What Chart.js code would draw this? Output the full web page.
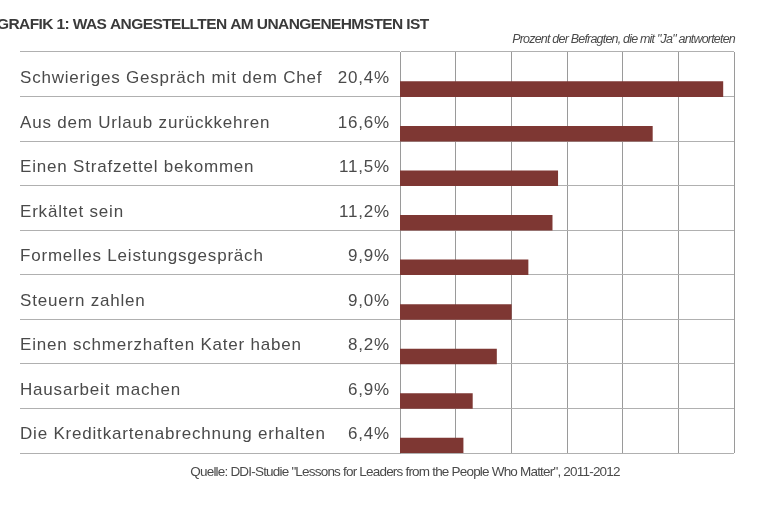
<!DOCTYPE html>
<html lang="de">
<head>
<meta charset="utf-8">
<title>Grafik 1</title>
<script src="https://cdn.jsdelivr.net/npm/chart.js@4/dist/chart.umd.min.js"></script>
<style>
  html, body { margin: 0; padding: 0; background: #fff; }
  canvas { display: block; }
</style>
</head>
<body>
<canvas id="chart" width="762" height="508"></canvas>
<script>
// Daten
const categories = [
    'Schwieriges Gespräch mit dem Chef',
    'Aus dem Urlaub zurückkehren',
    'Einen Strafzettel bekommen',
    'Erkältet sein',
    'Formelles Leistungsgespräch',
    'Steuern zahlen',
    'Einen schmerzhaften Kater haben',
    'Hausarbeit machen',
    'Die Kreditkartenabrechnung erhalten'
];
const values = [20.4, 16.6, 11.5, 11.2, 9.9, 9.0, 8.2, 6.9, 6.4];

const axisMin = 3;
const axisMax = 21;
const axisStep = 3;

const titleText = 'GRAFIK 1: WAS ANGESTELLTEN AM UNANGENEHMSTEN IST';
const noteText = 'Prozent der Befragten, die mit "Ja" antworteten';
const sourceText = 'Quelle: DDI-Studie "Lessons for Leaders from the People Who Matter", 2011-2012';

const textColor = '#4a4a4a';
const labelFont = { family: '"Liberation Sans", Arial, sans-serif', size: 17 };
const labelShift = 4;

function formatValue(v) {
    return v.toFixed(1).replace('.', ',') + '%';
}

// Titel, Hinweis, Quelle und Prozentwerte
const textPlugin = {
    id: 'texts',
    beforeDraw(chart) {
        const ctx = chart.ctx;
        const area = chart.chartArea;
        ctx.save();
        ctx.fillStyle = '#3a3a3a';
        ctx.textBaseline = 'middle';

        ctx.letterSpacing = '-0.6px';
        ctx.font = 'bold 15.5px "Liberation Sans", Arial, sans-serif';
        ctx.textAlign = 'left';
        ctx.fillText(titleText, -3, 25);

        ctx.fillStyle = textColor;
        ctx.letterSpacing = '-0.8px';
        ctx.font = 'italic 12.5px "Liberation Sans", Arial, sans-serif';
        ctx.textAlign = 'right';
        ctx.fillText(noteText, area.right + 1, 40);

        ctx.letterSpacing = '-0.8px';
        ctx.font = '13.5px "Liberation Sans", Arial, sans-serif';
        ctx.textAlign = 'center';
        ctx.fillText(sourceText, 405, area.bottom + 19);
        ctx.restore();
    },
    afterDatasetsDraw(chart) {
        // y-Achsenbeschriftung (z: 1) wird danach gezeichnet
        chart.ctx.letterSpacing = '0.8px';
    },
    afterDraw(chart) {
        const ctx = chart.ctx;
        const yScale = chart.scales.y;
        ctx.save();
        ctx.letterSpacing = '0.8px';
        ctx.fillStyle = textColor;
        ctx.font = labelFont.size + 'px ' + labelFont.family;
        ctx.textAlign = 'right';
        ctx.textBaseline = 'middle';
        values.forEach((v, i) => {
            ctx.fillText(formatValue(v), chart.chartArea.left - 10, yScale.getPixelForValue(i) + labelShift);
        });
        ctx.restore();
        ctx.letterSpacing = '0px';
    }
};

const ctx = document.getElementById('chart').getContext('2d');
new Chart(ctx, {
    type: 'bar',
    data: {
        labels: categories,
        datasets: [
            // zwei leere Gruppen, damit der Balken unten in der Zeile sitzt
            { data: [], backgroundColor: 'transparent' },
            { data: [], backgroundColor: 'transparent' },
            {
                data: values,
                backgroundColor: '#7e3733',
                borderWidth: 0,
                clip: 0
            }
        ]
    },
    options: {
        indexAxis: 'y',
        responsive: false,
        animation: false,
        events: [],
        barPercentage: 1,
        categoryPercentage: 1,
        layout: {
            padding: { top: 52, left: 20, right: 28, bottom: 55 }
        },
        plugins: {
            legend: { display: false },
            tooltip: { enabled: false }
        },
        scales: {
            x: {
                min: axisMin,
                max: axisMax,
                ticks: { stepSize: axisStep, display: false },
                grid: { color: '#9a9a9a', drawTicks: false },
                border: { display: false }
            },
            y: {
                afterFit(scale) { scale.width = 380; },
                ticks: {
                    z: 1,
                    crossAlign: 'far',
                    labelOffset: labelShift,
                    color: textColor,
                    font: labelFont,
                    autoSkip: false
                },
                grid: {
                    offset: true,
                    color: '#b0b0b0',
                    drawTicks: true,
                    tickLength: 380
                },
                border: { display: true, color: '#9a9a9a' }
            }
        }
    },
    plugins: [textPlugin]
});
</script>
</body>
</html>
